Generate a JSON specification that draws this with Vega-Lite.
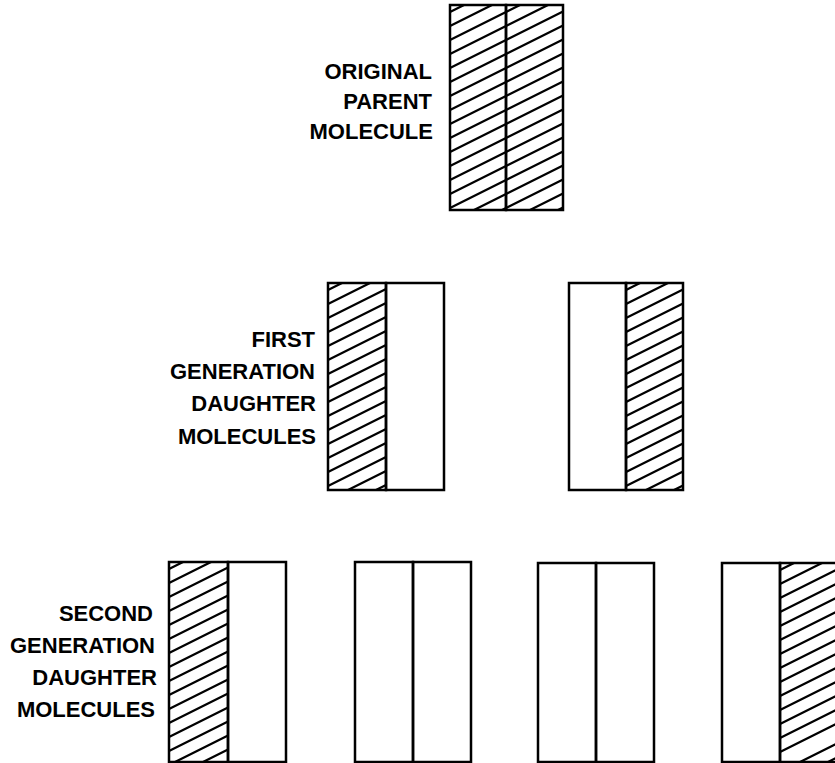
{
  "$schema": "https://vega.github.io/schema/vega-lite/v6.json",
  "width": 835,
  "height": 763,
  "autosize": {"type": "fit", "contains": "padding"},
  "padding": 0,
  "background": "white",
  "config": {"view": {"stroke": null}},
  "datasets": {
    "strands": [
      {"molecule": "parent", "x": 450, "x2": 506, "y": 5, "y2": 210},
      {"molecule": "parent", "x": 506, "x2": 563, "y": 5, "y2": 210},
      {"molecule": "first-1", "x": 328, "x2": 386, "y": 283, "y2": 490},
      {"molecule": "first-1", "x": 386, "x2": 444, "y": 283, "y2": 490},
      {"molecule": "first-2", "x": 569, "x2": 626, "y": 283, "y2": 490},
      {"molecule": "first-2", "x": 626, "x2": 683, "y": 283, "y2": 490},
      {"molecule": "second-1", "x": 169, "x2": 228, "y": 562, "y2": 762},
      {"molecule": "second-1", "x": 228, "x2": 286, "y": 562, "y2": 762},
      {"molecule": "second-2", "x": 355, "x2": 413, "y": 562, "y2": 762},
      {"molecule": "second-2", "x": 413, "x2": 471, "y": 562, "y2": 762},
      {"molecule": "second-3", "x": 538, "x2": 596, "y": 563, "y2": 762},
      {"molecule": "second-3", "x": 596, "x2": 654, "y": 563, "y2": 762},
      {"molecule": "second-4", "x": 722, "x2": 780, "y": 563, "y2": 762},
      {"molecule": "second-4", "x": 780, "x2": 838, "y": 563, "y2": 762}
    ],
    "hatch": [
      {"x": 450, "y": 12, "x2": 464, "y2": 5},
      {"x": 450, "y": 26, "x2": 492, "y2": 5},
      {"x": 450, "y": 40, "x2": 506, "y2": 12},
      {"x": 450, "y": 54, "x2": 506, "y2": 26},
      {"x": 450, "y": 68, "x2": 506, "y2": 40},
      {"x": 450, "y": 82, "x2": 506, "y2": 54},
      {"x": 450, "y": 96, "x2": 506, "y2": 68},
      {"x": 450, "y": 110, "x2": 506, "y2": 82},
      {"x": 450, "y": 124, "x2": 506, "y2": 96},
      {"x": 450, "y": 138, "x2": 506, "y2": 110},
      {"x": 450, "y": 152, "x2": 506, "y2": 124},
      {"x": 450, "y": 166, "x2": 506, "y2": 138},
      {"x": 450, "y": 180, "x2": 506, "y2": 152},
      {"x": 450, "y": 194, "x2": 506, "y2": 166},
      {"x": 450, "y": 208, "x2": 506, "y2": 180},
      {"x": 474, "y": 210, "x2": 506, "y2": 194},
      {"x": 502, "y": 210, "x2": 506, "y2": 208},

      {"x": 506, "y": 12, "x2": 520, "y2": 5},
      {"x": 506, "y": 26, "x2": 548, "y2": 5},
      {"x": 506, "y": 40, "x2": 563, "y2": 11.5},
      {"x": 506, "y": 54, "x2": 563, "y2": 25.5},
      {"x": 506, "y": 68, "x2": 563, "y2": 39.5},
      {"x": 506, "y": 82, "x2": 563, "y2": 53.5},
      {"x": 506, "y": 96, "x2": 563, "y2": 67.5},
      {"x": 506, "y": 110, "x2": 563, "y2": 81.5},
      {"x": 506, "y": 124, "x2": 563, "y2": 95.5},
      {"x": 506, "y": 138, "x2": 563, "y2": 109.5},
      {"x": 506, "y": 152, "x2": 563, "y2": 123.5},
      {"x": 506, "y": 166, "x2": 563, "y2": 137.5},
      {"x": 506, "y": 180, "x2": 563, "y2": 151.5},
      {"x": 506, "y": 194, "x2": 563, "y2": 165.5},
      {"x": 506, "y": 208, "x2": 563, "y2": 179.5},
      {"x": 530, "y": 210, "x2": 563, "y2": 193.5},
      {"x": 558, "y": 210, "x2": 563, "y2": 207.5},

      {"x": 328, "y": 290, "x2": 342, "y2": 283},
      {"x": 328, "y": 304, "x2": 370, "y2": 283},
      {"x": 328, "y": 318, "x2": 386, "y2": 289},
      {"x": 328, "y": 332, "x2": 386, "y2": 303},
      {"x": 328, "y": 346, "x2": 386, "y2": 317},
      {"x": 328, "y": 360, "x2": 386, "y2": 331},
      {"x": 328, "y": 374, "x2": 386, "y2": 345},
      {"x": 328, "y": 388, "x2": 386, "y2": 359},
      {"x": 328, "y": 402, "x2": 386, "y2": 373},
      {"x": 328, "y": 416, "x2": 386, "y2": 387},
      {"x": 328, "y": 430, "x2": 386, "y2": 401},
      {"x": 328, "y": 444, "x2": 386, "y2": 415},
      {"x": 328, "y": 458, "x2": 386, "y2": 429},
      {"x": 328, "y": 472, "x2": 386, "y2": 443},
      {"x": 328, "y": 486, "x2": 386, "y2": 457},
      {"x": 348, "y": 490, "x2": 386, "y2": 471},
      {"x": 376, "y": 490, "x2": 386, "y2": 485},

      {"x": 626, "y": 290, "x2": 640, "y2": 283},
      {"x": 626, "y": 304, "x2": 668, "y2": 283},
      {"x": 626, "y": 318, "x2": 683, "y2": 289.5},
      {"x": 626, "y": 332, "x2": 683, "y2": 303.5},
      {"x": 626, "y": 346, "x2": 683, "y2": 317.5},
      {"x": 626, "y": 360, "x2": 683, "y2": 331.5},
      {"x": 626, "y": 374, "x2": 683, "y2": 345.5},
      {"x": 626, "y": 388, "x2": 683, "y2": 359.5},
      {"x": 626, "y": 402, "x2": 683, "y2": 373.5},
      {"x": 626, "y": 416, "x2": 683, "y2": 387.5},
      {"x": 626, "y": 430, "x2": 683, "y2": 401.5},
      {"x": 626, "y": 444, "x2": 683, "y2": 415.5},
      {"x": 626, "y": 458, "x2": 683, "y2": 429.5},
      {"x": 626, "y": 472, "x2": 683, "y2": 443.5},
      {"x": 626, "y": 486, "x2": 683, "y2": 457.5},
      {"x": 646, "y": 490, "x2": 683, "y2": 471.5},
      {"x": 674, "y": 490, "x2": 683, "y2": 485.5},

      {"x": 169, "y": 569, "x2": 183, "y2": 562},
      {"x": 169, "y": 583, "x2": 211, "y2": 562},
      {"x": 169, "y": 597, "x2": 228, "y2": 567.5},
      {"x": 169, "y": 611, "x2": 228, "y2": 581.5},
      {"x": 169, "y": 625, "x2": 228, "y2": 595.5},
      {"x": 169, "y": 639, "x2": 228, "y2": 609.5},
      {"x": 169, "y": 653, "x2": 228, "y2": 623.5},
      {"x": 169, "y": 667, "x2": 228, "y2": 637.5},
      {"x": 169, "y": 681, "x2": 228, "y2": 651.5},
      {"x": 169, "y": 695, "x2": 228, "y2": 665.5},
      {"x": 169, "y": 709, "x2": 228, "y2": 679.5},
      {"x": 169, "y": 723, "x2": 228, "y2": 693.5},
      {"x": 169, "y": 737, "x2": 228, "y2": 707.5},
      {"x": 169, "y": 751, "x2": 228, "y2": 721.5},
      {"x": 175, "y": 762, "x2": 228, "y2": 735.5},
      {"x": 203, "y": 762, "x2": 228, "y2": 749.5},

      {"x": 780, "y": 570, "x2": 794, "y2": 563},
      {"x": 780, "y": 584, "x2": 822, "y2": 563},
      {"x": 780, "y": 598, "x2": 838, "y2": 569},
      {"x": 780, "y": 612, "x2": 838, "y2": 583},
      {"x": 780, "y": 626, "x2": 838, "y2": 597},
      {"x": 780, "y": 640, "x2": 838, "y2": 611},
      {"x": 780, "y": 654, "x2": 838, "y2": 625},
      {"x": 780, "y": 668, "x2": 838, "y2": 639},
      {"x": 780, "y": 682, "x2": 838, "y2": 653},
      {"x": 780, "y": 696, "x2": 838, "y2": 667},
      {"x": 780, "y": 710, "x2": 838, "y2": 681},
      {"x": 780, "y": 724, "x2": 838, "y2": 695},
      {"x": 780, "y": 738, "x2": 838, "y2": 709},
      {"x": 780, "y": 752, "x2": 838, "y2": 723},
      {"x": 800, "y": 762, "x2": 838, "y2": 743},
      {"x": 828, "y": 762, "x2": 838, "y2": 757}
    ],
    "labels": [
      {"label": "ORIGINAL", "x": 432, "y": 72},
      {"label": "PARENT", "x": 432, "y": 102},
      {"label": "MOLECULE", "x": 433, "y": 132},
      {"label": "FIRST", "x": 315, "y": 340},
      {"label": "GENERATION", "x": 315, "y": 372},
      {"label": "DAUGHTER", "x": 316, "y": 404},
      {"label": "MOLECULES", "x": 316, "y": 437},
      {"label": "SECOND", "x": 153, "y": 614},
      {"label": "GENERATION", "x": 155, "y": 646},
      {"label": "DAUGHTER", "x": 157, "y": 678},
      {"label": "MOLECULES", "x": 155, "y": 710}
    ]
  },
  "layer": [
    {
      "data": {"name": "hatch"},
      "mark": {"type": "rule", "color": "black", "strokeWidth": 2.1, "clip": true},
      "encoding": {
        "x": {"field": "x", "type": "quantitative", "scale": {"domain": [0, 835]}, "axis": null},
        "y": {"field": "y", "type": "quantitative", "scale": {"domain": [0, 763], "reverse": true}, "axis": null},
        "x2": {"field": "x2"},
        "y2": {"field": "y2"}
      }
    },
    {
      "data": {"name": "strands"},
      "mark": {"type": "rect", "fill": "white", "fillOpacity": 0, "stroke": "black", "strokeWidth": 2.5, "clip": true},
      "encoding": {
        "x": {"field": "x", "type": "quantitative", "scale": {"domain": [0, 835]}, "axis": null},
        "y": {"field": "y", "type": "quantitative", "scale": {"domain": [0, 763], "reverse": true}, "axis": null},
        "x2": {"field": "x2"},
        "y2": {"field": "y2"}
      }
    },
    {
      "data": {"name": "labels"},
      "mark": {"type": "text", "align": "right", "baseline": "middle", "font": "Liberation Sans", "fontWeight": "bold", "fontSize": 22, "color": "black"},
      "encoding": {
        "x": {"field": "x", "type": "quantitative", "scale": {"domain": [0, 835]}, "axis": null},
        "y": {"field": "y", "type": "quantitative", "scale": {"domain": [0, 763], "reverse": true}, "axis": null},
        "text": {"field": "label"}
      }
    }
  ]
}
